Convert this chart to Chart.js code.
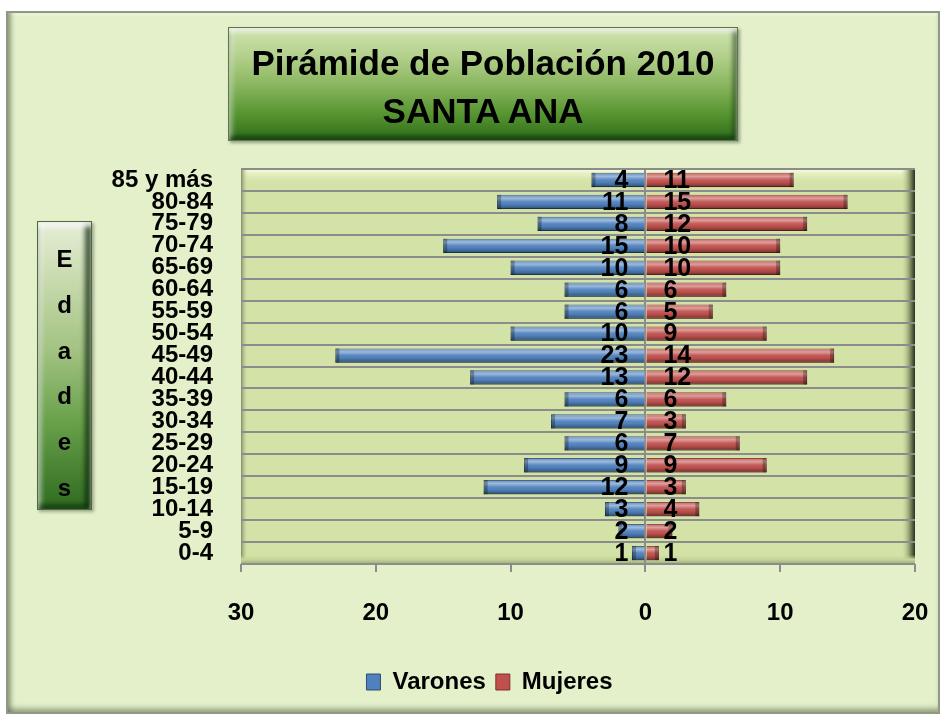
<!DOCTYPE html>
<html><head><meta charset="utf-8">
<script src="https://cdn.jsdelivr.net/npm/chart.js@4/dist/chart.umd.min.js"></script>
<style>
html,body{margin:0;padding:0;background:#fff;}
#wrap{position:relative;width:947px;height:717px;overflow:hidden;font-family:"Liberation Sans",Arial,sans-serif;}
#frame{position:absolute;left:6px;top:11px;width:930px;height:699px;background:#E4F0CA;border:2px solid #8f9a86;
 box-shadow:inset 5px 0 5px -2px rgba(80,90,60,.55), inset 0 -6px 5px -2px rgba(80,90,60,.45), inset 0 4px 3px -2px rgba(255,255,240,.9);}
#c{position:absolute;left:0;top:0;}
#title{position:absolute;left:228px;top:27px;width:510px;height:114px;box-sizing:border-box;padding-top:11px;text-align:center;
 font-weight:bold;font-size:35px;line-height:48px;color:#000;
 background:linear-gradient(#CFE4B0 0%,#B3D08C 25%,#8BB760 50%,#55932F 78%,#2E6B1B 100%);
 border:1px solid #5C7A44;
 box-shadow:inset 0 4px 4px rgba(255,255,255,.75), inset 0 -4px 4px rgba(0,40,0,.6), inset 4px 0 4px rgba(255,255,255,.35), inset -4px 0 5px rgba(0,30,0,.55), 2px 2px 3px rgba(0,0,0,.35);}
#edades{position:absolute;left:37px;top:221px;width:55px;height:289px;box-sizing:border-box;padding-top:14px;text-align:center;
 font-weight:bold;font-size:24px;line-height:45.8px;color:#000;
 background:linear-gradient(#E6EED8 0%,#C8DAAE 20%,#A2C282 45%,#68A04A 70%,#2F6B20 100%);
 border:1px solid #4F6A3C;
 box-shadow:inset 0 5px 4px rgba(255,255,255,.8), inset 0 -5px 4px rgba(0,40,0,.55), inset 4px 0 4px rgba(255,255,255,.4), inset -6px 0 5px rgba(0,25,0,.7), 2px 2px 3px rgba(0,0,0,.3);}
</style></head>
<body>
<div id="wrap">
 <div id="frame"></div>
 <canvas id="c" width="947" height="717"></canvas>
 <div id="title"><div>Pirámide de Población 2010</div><div>SANTA ANA</div></div>
 <div id="edades"><div>E</div><div>d</div><div>a</div><div>d</div><div>e</div><div>s</div></div>
</div>
<script>
const categories = ['85 y más','80-84','75-79','70-74','65-69','60-64','55-59','50-54','45-49','40-44','35-39','30-34','25-29','20-24','15-19','10-14','5-9','0-4'];
const varones = [4,11,8,15,10,6,6,10,23,13,6,7,6,9,12,3,2,1];
const mujeres = [11,15,12,10,10,6,5,9,14,12,6,3,7,9,3,4,2,1];
const seriesNames = ['Varones','Mujeres'];
const xMin = -30, xMax = 20, xStep = 10;

const FONT = '"Liberation Sans", Arial, sans-serif';

const plotBg = {
  id:'plotBg',
  beforeDraw(chart){
    const {ctx, chartArea:{left,top,right,bottom}} = chart;
    ctx.save();
    ctx.fillStyle = '#D3E3A7';
    ctx.fillRect(left, top, right-left, bottom-top);
    let g = ctx.createLinearGradient(0, top, 0, top+16);
    g.addColorStop(0, '#FAFDE0'); g.addColorStop(1, 'rgba(211,227,167,0)');
    ctx.fillStyle = g; ctx.fillRect(left, top, right-left, 16);
    g = ctx.createLinearGradient(left, 0, left+7, 0);
    g.addColorStop(0, '#7F8C68'); g.addColorStop(1, 'rgba(211,227,167,0)');
    ctx.fillStyle = g; ctx.fillRect(left, top, 7, bottom-top);
    g = ctx.createLinearGradient(right-14, 0, right, 0);
    g.addColorStop(0, 'rgba(211,227,167,0)'); g.addColorStop(0.6, '#8E9C6E'); g.addColorStop(1, '#28301F');
    ctx.fillStyle = g; ctx.fillRect(right-14, top, 14, bottom-top);
    g = ctx.createLinearGradient(0, bottom-9, 0, bottom);
    g.addColorStop(0, 'rgba(200,215,150,0)'); g.addColorStop(0.5, '#C4D597'); g.addColorStop(1, '#9DAE78');
    ctx.fillStyle = g; ctx.fillRect(left, bottom-9, right-left, 9);
    ctx.restore();
  }
};

const barFx = {
  id:'barFx',
  afterDatasetsDraw(chart){
    const ctx = chart.ctx;
    const zeroX = chart.scales.x.getPixelForValue(0);
    ctx.save();
    chart.data.datasets.forEach((ds, di) => {
      const meta = chart.getDatasetMeta(di);
      meta.data.forEach((bar, i) => {
        const p = bar.getProps(['x','y','base','height'], true);
        const l = Math.min(p.x, p.base), r = Math.max(p.x, p.base);
        const t = p.y - p.height/2, b = p.y + p.height/2;
        let g = ctx.createLinearGradient(0, t, 0, b);
        g.addColorStop(0, 'rgba(255,255,255,0.10)');
        g.addColorStop(0.25, 'rgba(255,255,255,0.45)');
        g.addColorStop(0.5, 'rgba(255,255,255,0.05)');
        g.addColorStop(0.75, 'rgba(0,0,0,0.10)');
        g.addColorStop(1, 'rgba(0,0,0,0.40)');
        ctx.fillStyle = g;
        ctx.fillRect(l, t, r-l, b-t);
        const w = Math.min(4, (r-l)/2);
        ctx.fillStyle = 'rgba(0,0,0,0.28)';
        if (di === 0) ctx.fillRect(l, t, w, b-t); else ctx.fillRect(r-w, t, w, b-t);
      });
    });
    ctx.fillStyle = '#000';
    ctx.font = 'bold 25px ' + FONT;
    ctx.textBaseline = 'middle';
    chart.getDatasetMeta(0).data.forEach((bar, i) => {
      ctx.textAlign = 'right';
      ctx.fillText(String(varones[i]), zeroX - 17, bar.y + 1);
    });
    chart.getDatasetMeta(1).data.forEach((bar, i) => {
      ctx.textAlign = 'left';
      ctx.fillText(String(mujeres[i]), zeroX + 18, bar.y + 1);
    });
    ctx.restore();
  }
};

new Chart(document.getElementById('c'), {
  type:'bar',
  data:{
    labels: categories,
    datasets:[
      {label: seriesNames[0], data: varones.map(v => -v), backgroundColor:'#4F81BD', borderColor:'#2C4D75', borderWidth:1, barPercentage:0.65, categoryPercentage:1},
      {label: seriesNames[1], data: mujeres, backgroundColor:'#C0504D', borderColor:'#7F2E2C', borderWidth:1, barPercentage:0.65, categoryPercentage:1}
    ]
  },
  options:{
    indexAxis:'y',
    responsive:false,
    animation:false,
    devicePixelRatio:1,
    layout:{padding:{top:169, left:64, right:32, bottom:13}},
    plugins:{
      legend:{
        position:'bottom',
        labels:{color:'#000', font:{family:FONT, size:24, weight:'bold'}, boxWidth:14, boxHeight:16, padding:10}
      },
      tooltip:{enabled:false}
    },
    scales:{
      x:{
        stacked:true, min:xMin, max:xMax,
        afterFit(s){ s.height = 96; s.paddingLeft = 0; s.paddingRight = 0; },
        border:{display:false},
        grid:{
          color:(c) => (c.tick && c.tick.value === 0) ? '#8C8C8C' : 'rgba(0,0,0,0)',
          tickColor:'#8C8C8C', lineWidth:2, drawTicks:true, tickLength:8
        },
        ticks:{stepSize:xStep, color:'#000', padding:27, font:{family:FONT, size:24, weight:'bold'}, callback:(v) => Math.abs(v)}
      },
      y:{
        stacked:true,
        afterFit(s){ s.width = 177; s.paddingTop = 0; s.paddingBottom = 0; },
        border:{display:false},
        grid:{color:'#8C8C8C', lineWidth:2, drawTicks:false, offset:true},
        ticks:{autoSkip:false, color:'#000', padding:28, font:{family:FONT, size:24, weight:'bold'}}
      }
    }
  },
  plugins:[plotBg, barFx]
});
</script>
</body></html>
